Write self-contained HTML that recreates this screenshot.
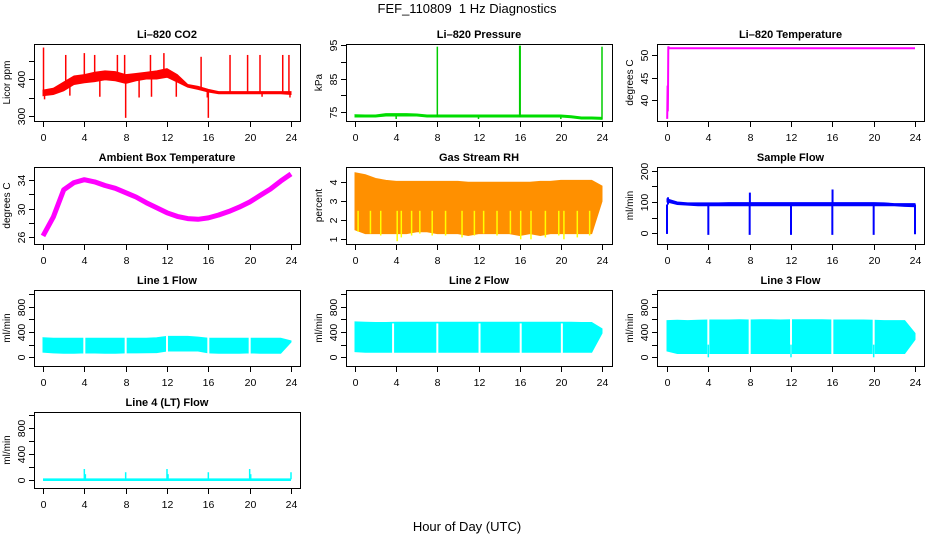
<!DOCTYPE html>
<html><head><meta charset="utf-8"><style>
html,body{margin:0;padding:0;background:#fff;}
svg{display:block;font-family:"Liberation Sans",sans-serif;}
</style></head><body>
<svg id="fig" width="936" height="540" viewBox="0 0 936 540">
<text x="467" y="13" text-anchor="middle" font-size="13">FEF_110809&#160;&#160;1 Hz Diagnostics</text>
<text x="467" y="531" text-anchor="middle" font-size="13">Hour of Day (UTC)</text>
</svg>
<script>
// ---- data ----
const hours = [0,1,2,3,4,5,6,7,8,9,10,11,12,13,14,15,16,17,18,19,20,21,22,23,24];
const xTicks = [0,4,8,12,16,20,24];
const co2Lo = [355,358,368,385,390,393,398,395,388,395,400,400,405,392,378,372,365,360,360,360,360,360,360,360,358];
const co2Hi = [370,375,392,408,412,418,422,420,412,415,418,422,428,412,385,380,372,366,366,366,366,366,366,366,366];
const co2SpikeT = [0.05,0.15,2.2,2.6,4.0,5.0,5.5,7.2,7.9,8.0,9.3,10.4,10.5,11.7,12.9,15.3,15.9,16.0,18.1,19.8,21.0,21.2,23.2,23.8,23.9];
const co2SpikeV = [485,345,465,355,470,465,352,465,465,295,350,465,352,470,352,460,350,295,465,465,465,352,465,465,350];
const presLo = [73.6,73.6,73.6,73.9,73.9,73.9,73.9,73.6,73.6,73.6,73.6,73.6,73.6,73.6,73.6,73.6,73.6,73.6,73.6,73.6,73.6,73.4,73.0,73.0,72.9];
const presHi = [74.3,74.2,74.2,74.6,74.6,74.6,74.5,74.2,74.2,74.2,74.2,74.2,74.2,74.2,74.2,74.2,74.2,74.2,74.2,74.2,74.2,74.0,73.6,73.6,73.5];
const presSpikeT = [8,16,16.05,24,4,12,20];
const presSpikeV = [94.5,94.8,94.8,94.5,73.0,73.0,73.0];
const tempT = [0.02,0.06,0.08,0.1,0.13,0.2,24];
const tempV = [35.8,43.2,37.5,41,51.9,51.5,51.5];
const ambV = [26.2,28.8,32.6,33.6,34.0,33.7,33.2,32.8,32.2,31.6,30.8,30.1,29.4,28.9,28.6,28.5,28.7,29.1,29.6,30.2,30.9,31.8,32.7,33.8,34.8];
const rhHi = [4.5,4.4,4.2,4.1,4.05,4.05,4.05,4.05,4.05,4.05,4.05,4.0,4.0,4.0,4.0,4.0,4.0,4.0,4.05,4.05,4.1,4.1,4.1,4.1,3.8];
const rhLo = [1.5,1.3,1.3,1.3,1.3,1.3,1.4,1.4,1.3,1.3,1.3,1.2,1.3,1.3,1.3,1.3,1.2,1.3,1.2,1.3,1.3,1.3,1.3,1.3,3.0];
const rhDipT = [0.3,1.5,2.5,4.1,4.5,5.5,6.3,7.5,8.8,10.4,11.6,12.5,13.8,15.1,16.1,17.1,18.5,19.8,20.3,21.6,22.8];
const rhDipV = [1.4,1.3,1.2,0.9,1.1,1.2,1.3,1.2,1.2,1.1,1.2,1.3,1.2,1.3,1.0,1.0,1.1,1.2,1.0,1.1,1.2];
const flowLo = [100,92,90,88,88,88,88,88,88,88,88,88,88,88,88,88,88,88,88,88,88,88,88,86,85];
const flowHi = [110,100,97,97,97,97,98,98,98,98,98,98,98,98,98,98,98,98,98,98,98,97,95,95,95];
const flowSpikeT = [0,0.1,4,8,8.02,12,16,16.02,20,24];
const flowSpikeV = [-2,115,-5,-5,130,-5,-5,140,-5,-3];
const l1Lo = [80,70,65,65,70,68,65,65,70,70,72,75,100,100,100,100,70,65,65,65,70,65,65,65,240];
const l1Hi = [310,300,300,300,300,300,300,300,300,300,300,310,330,330,330,320,300,300,300,300,300,300,300,300,260];
const l1Gap = [4,8,12,16,20];
const l2Lo = [90,80,80,80,80,80,80,80,80,80,80,80,80,80,80,80,80,80,80,80,80,80,80,80,380];
const l2Hi = [560,555,550,550,555,555,555,555,555,555,555,555,555,555,555,555,555,555,555,555,555,555,550,550,450];
const l2Gap = [3.7,8,12.1,16.1,20.1];
const l3Lo = [100,60,60,60,60,60,60,60,60,60,60,60,60,60,60,60,60,60,60,60,60,60,60,60,280];
const l3Hi = [580,585,580,585,590,590,590,595,590,595,595,590,595,595,595,595,590,590,590,590,585,580,580,580,380];
const l3Gap = [4,8,12,16,20];
const l3DipT = [4,12,20];
const l3DipV = [0,0,0];
const l4T = [4,4.1,8,12,12.1,16,20,20.1,24];
const l4V = [170,90,120,170,90,120,170,90,120];

// ---- layout ----
const svg = document.getElementById('fig');
const NS = 'http://www.w3.org/2000/svg';
const cols = [{x0:34,x1:300,a:43,b:291},{x0:346,x1:612,a:355,b:602},{x0:657,x1:924,a:667,b:915}];
const rows = [{y0:44,y1:121},{y0:167,y1:244},{y0:290,y1:366},{y0:412,y1:488}];
function mk(tag, attrs, parent){
  const e = document.createElementNS(NS, tag);
  for (const k in attrs) e.setAttribute(k, attrs[k]);
  (parent||svg).appendChild(e);
  return e;
}
function panel(key, title, ylab, c, r, v1, p1, v2, p2, ticks, labels){
  const col = cols[c], row = rows[r];
  const g = mk('g', {});
  
  
  const X = t => col.a + (col.b - col.a) * t / 24;
  const Y = v => p1 + (p2 - p1) * (v - v1) / (v2 - v1);
  const plot = mk('g', {}, g);
  
  
  const fr = mk('rect', {x:col.x0+0.5, y:row.y0+0.5, width:col.x1-col.x0, height:row.y1-row.y0, fill:'none', stroke:'#000', 'stroke-width':1}, g);
  
  
  const tt = mk('text', {x:(col.x0+col.x1)/2, y:row.y0-6, 'text-anchor':'middle', 'font-size':11, 'font-weight':'bold'}, g);
  tt.textContent = title;
  
  
  const yl = mk('text', {transform:`translate(${col.x0-24},${(row.y0+row.y1)/2}) rotate(-90)`, 'text-anchor':'middle', 'font-size':10}, g);
  yl.textContent = ylab;
  
  
  xTicks.forEach(t => {
    const x = Math.round(X(t)) + 0.5;
    const tk = mk('line', {x1:x, x2:x, y1:row.y1, y2:row.y1+6, stroke:'#000'}, g);
    
    
    const lb = mk('text', {x:x, y:row.y1+20, 'text-anchor':'middle', 'font-size':10.5}, g);
    lb.textContent = t;
    
    
  });
  ticks.forEach(v => {
    const y = Math.round(Y(v)) + 0.5;
    const tk = mk('line', {x1:col.x0-5, x2:col.x0, y1:y, y2:y, stroke:'#000'}, g);
    
    
    if (labels.includes(v)) {
      const lb = mk('text', {transform:`translate(${col.x0-9},${y}) rotate(-90)`, 'text-anchor':'middle', 'font-size':10.5}, g);
      lb.textContent = v;
      
      
    }
  });
  return {X, Y, plot, row, col};
}
function band(P, lo, hi, fill){
  let pts = hours.map((t,i) => P.X(t).toFixed(1) + ',' + P.Y(hi[i]).toFixed(1));
  for (let i = hours.length-1; i >= 0; i--) pts.push(P.X(hours[i]).toFixed(1) + ',' + P.Y(lo[i]).toFixed(1));
  const p = mk('polygon', {points:pts.join(' '), fill:fill, stroke:fill, 'stroke-width':1}, P.plot);
  
  
}
function interp(arr, t){
  const i = Math.min(23, Math.floor(t)); const f = t - i;
  return arr[i] * (1-f) + arr[i+1] * f;
}
function spikes(P, ts, vs, baseFn, color, w){
  ts.forEach((t,i) => {
    const x = P.X(t);
    const l = mk('line', {x1:x, x2:x, y1:P.Y(baseFn(t)), y2:P.Y(vs[i]), stroke:color, 'stroke-width':w||1.5}, P.plot);
    
    
  });
}
function gaps(P, ts, lo, hi){
  ts.forEach(t => {
    const x = P.X(t);
    const r = mk('rect', {x:x-1, y:P.Y(hi)-1, width:2, height:P.Y(lo)-P.Y(hi)+2, fill:'#fff'}, P.plot);
    
    
  });
}

let P = panel('co2', 'Li\u2013820 CO2', 'Licor ppm', 0, 0, 400, 79, 300, 116, [300,350,400,450], [300,400]);
band(P, co2Lo, co2Hi, '#ff0000');
spikes(P, co2SpikeT, co2SpikeV, t => (interp(co2Lo,t)+interp(co2Hi,t))/2, '#ff0000', 1.5);

P = panel('pressure', 'Li\u2013820 Pressure', 'kPa', 1, 0, 95, 45, 75, 112.3, [75,80,85,90,95], [75,85,95]);
band(P, presLo, presHi, '#00dd00');
spikes(P, presSpikeT, presSpikeV, t => interp(presLo,t), '#00cc00', 1.5);

P = panel('li820-temp', 'Li\u2013820 Temperature', 'degrees C', 2, 0, 50, 55, 40, 100, [40,45,50], [40,45,50]);
{
  const pl = mk('polyline', {points:tempT.map((t,i)=>P.X(t).toFixed(1)+','+P.Y(tempV[i]).toFixed(1)).join(' '), fill:'none', stroke:'#ff00ff', 'stroke-width':2}, P.plot);
  
  
}

P = panel('ambient-temp', 'Ambient Box Temperature', 'degrees C', 0, 1, 34, 179.7, 26, 237.3, [26,28,30,32,34], [26,30,34]);
{
  const pl = mk('polyline', {points:hours.map((t,i)=>P.X(t).toFixed(1)+','+P.Y(ambV[i]).toFixed(1)).join(' '), fill:'none', stroke:'#ff00ff', 'stroke-width':5, 'stroke-linejoin':'round'}, P.plot);
  
  
}

P = panel('gas-rh', 'Gas Stream RH', 'percent', 1, 1, 4, 182.3, 1, 239.3, [1,2,3,4], [1,2,3,4]);
band(P, rhLo, rhHi, '#ff9000');
spikes(P, rhDipT, rhDipV, t => 2.5, '#ffff00', 1.5);

P = panel('sample-flow', 'Sample Flow', 'ml/min', 2, 1, 200, 170.7, 0, 233.3, [0,50,100,150,200], [0,100,200]);
band(P, flowLo, flowHi, '#0000ff');
spikes(P, flowSpikeT, flowSpikeV, t => 92, '#0000ff', 2);

P = panel('line1-flow', 'Line 1 Flow', 'ml/min', 0, 2, 800, 306.7, 0, 357.3, [0,200,400,600,800,1000], [0,400,800]);
band(P, l1Lo, l1Hi, '#00ffff');
gaps(P, l1Gap, 60, 340);

P = panel('line2-flow', 'Line 2 Flow', 'ml/min', 1, 2, 800, 306.7, 0, 357.3, [0,200,400,600,800,1000], [0,400,800]);
band(P, l2Lo, l2Hi, '#00ffff');
gaps(P, l2Gap, 70, 520);

P = panel('line3-flow', 'Line 3 Flow', 'ml/min', 2, 2, 800, 306.7, 0, 357.3, [0,200,400,600,800,1000], [0,400,800]);
band(P, l3Lo, l3Hi, '#00ffff');
gaps(P, l3Gap, 50, 620);
spikes(P, l3DipT, l3DipV, t => 200, '#00ffff', 1.5);

P = panel('line4-flow', 'Line 4 (LT) Flow', 'ml/min', 0, 3, 800, 428.3, 0, 480, [0,200,400,600,800,1000], [0,400,800]);
{
  const r = mk('rect', {x:P.X(0), y:P.Y(25), width:P.X(24)-P.X(0), height:P.Y(0)-P.Y(25)+1, fill:'#00ffff'}, P.plot);
  
  
}
spikes(P, l4T, l4V, t => 10, '#00ffff', 1.5);
</script>
</body></html>
